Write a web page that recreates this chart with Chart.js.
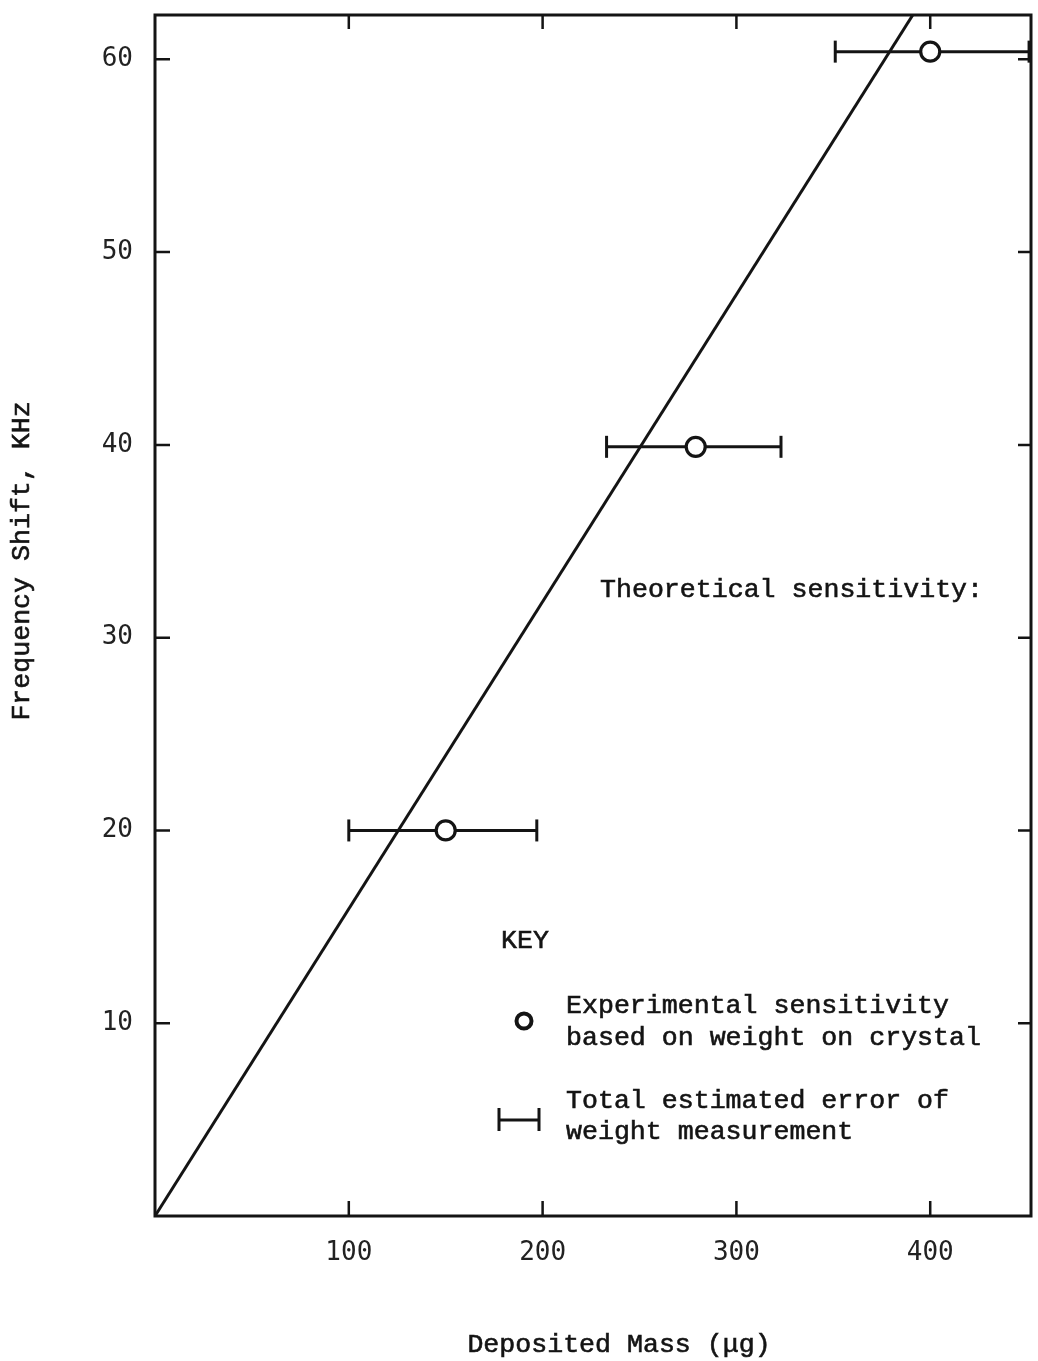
<!DOCTYPE html>
<html>
<head>
<meta charset="utf-8">
<script src="https://cdn.jsdelivr.net/npm/chart.js@4/dist/chart.umd.min.js"></script>
<style>
  html, body { margin: 0; padding: 0; background: #ffffff; }
  canvas { display: block; }
</style>
</head>
<body>
<canvas id="chart" width="1038" height="1361"></canvas>
<script>
// Axis ticks
const xTicks = [100, 200, 300, 400];
const yTicks = [10, 20, 30, 40, 50, 60];
const xRange = [0, 452];
const yRange = [0, 62.3];

// Measured sensitivity (deposited mass in µg, frequency shift in kHz)
const massValues  = [150, 279, 400];
const shiftValues = [20, 39.9, 60.4];
// Total estimated error of the weight measurement (low / high mass)
const massLow  = [100, 233, 351];
const massHigh = [197, 323, 451];

// Theoretical sensitivity line end points
const theoryMass  = [0, 391];
const theoryShift = [0, 62.3];

const INK = '#141414';
const TEXT_FONT = '"Liberation Mono", "Courier New", monospace';
const TICK_FONT = '"DejaVu Sans Mono", monospace';

// Frame around the plot with inward tick marks on all four sides
const framePlugin = {
  id: 'frame',
  afterDatasetsDraw(chart) {
    const { ctx, chartArea: a, scales } = chart;
    ctx.save();
    ctx.strokeStyle = INK;
    ctx.lineWidth = 3;
    ctx.lineCap = 'square';
    ctx.strokeRect(a.left, a.top, a.right - a.left, a.bottom - a.top);
    ctx.lineWidth = 2.5;
    ctx.lineCap = 'butt';
    ctx.beginPath();
    xTicks.forEach(v => {
      const px = scales.x.getPixelForValue(v);
      ctx.moveTo(px, a.bottom); ctx.lineTo(px, a.bottom - 15);
      ctx.moveTo(px, a.top);    ctx.lineTo(px, a.top + 14);
    });
    yTicks.forEach(v => {
      const py = scales.y.getPixelForValue(v);
      ctx.moveTo(a.left, py);  ctx.lineTo(a.left + 15, py);
      ctx.moveTo(a.right, py); ctx.lineTo(a.right - 13, py);
    });
    ctx.stroke();
    ctx.restore();
  }
};

// Draws a line of typewriter text slightly heavier than the plain font
function typeText(ctx, s, x, y) {
  ctx.fillText(s, x, y);
  ctx.strokeText(s, x, y);
}

// Axis titles, line annotation and key
const textPlugin = {
  id: 'texts',
  afterDraw(chart) {
    const { ctx } = chart;
    ctx.save();
    ctx.fillStyle = INK;
    ctx.strokeStyle = INK;
    ctx.lineWidth = 0.6;
    ctx.font = '26.6px ' + TEXT_FONT;
    ctx.textBaseline = 'alphabetic';

    ctx.textAlign = 'center';
    typeText(ctx, 'Deposited Mass (μg)', 619, 1352);

    ctx.save();
    ctx.translate(29, 561);
    ctx.rotate(-Math.PI / 2);
    typeText(ctx, 'Frequency Shift, KHz', 0, 0);
    ctx.restore();

    ctx.textAlign = 'left';
    typeText(ctx, 'Theoretical sensitivity:', 600, 597);
    typeText(ctx, 'KEY', 501, 948);
    typeText(ctx, 'Experimental sensitivity', 566, 1013);
    typeText(ctx, 'based on weight on crystal', 566, 1045);
    typeText(ctx, 'Total estimated error of', 566, 1108);
    typeText(ctx, 'weight measurement', 566, 1139);

    // key symbols
    ctx.lineWidth = 4;
    ctx.beginPath();
    ctx.arc(524, 1021, 7.5, 0, Math.PI * 2);
    ctx.stroke();

    ctx.lineWidth = 3;
    ctx.beginPath();
    ctx.moveTo(498, 1120); ctx.lineTo(539, 1120);
    ctx.moveTo(499, 1108); ctx.lineTo(499, 1131);
    ctx.moveTo(539, 1108); ctx.lineTo(539, 1131);
    ctx.stroke();
    ctx.restore();
  }
};

const errorBarSets = massValues.map((_, i) => ({
  label: 'error ' + (i + 1),
  data: [{ x: massLow[i], y: shiftValues[i] }, { x: massHigh[i], y: shiftValues[i] }],
  showLine: true,
  borderColor: INK,
  borderWidth: 3,
  pointStyle: 'line',
  pointRotation: 90,
  pointRadius: 11,
  pointBorderWidth: 3,
  pointBorderColor: INK,
  clip: false,
  order: 2
}));

// Keep the plot box fixed: no extra room reserved for end labels
function noEdgePadding(s) {
  s.paddingTop = 0;
  s.paddingBottom = 0;
  s.paddingLeft = 0;
  s.paddingRight = 0;
}

function build() {
  new Chart(document.getElementById('chart'), {
    type: 'scatter',
    data: {
      datasets: [
        {
          label: 'Experimental sensitivity',
          data: massValues.map((x, i) => ({ x, y: shiftValues[i] })),
          showLine: false,
          pointRadius: 9.5,
          pointBorderWidth: 3.2,
          pointBackgroundColor: '#ffffff',
          pointBorderColor: INK,
          order: 1
        },
        ...errorBarSets,
        {
          label: 'Theoretical sensitivity',
          data: theoryMass.map((x, i) => ({ x, y: theoryShift[i] })),
          showLine: true,
          borderColor: INK,
          borderWidth: 3,
          pointRadius: 0,
          order: 3
        }
      ]
    },
    options: {
      responsive: false,
      animation: false,
      devicePixelRatio: 1,
      layout: { autoPadding: false, padding: { top: 15, right: 7, bottom: 0, left: 0 } },
      plugins: { legend: { display: false }, tooltip: { enabled: false } },
      scales: {
        x: {
          type: 'linear',
          min: xRange[0],
          max: xRange[1],
          afterBuildTicks: s => { s.ticks = xTicks.map(v => ({ value: v })); },
          afterFit: s => { s.height = 145; noEdgePadding(s); },
          grid: { display: false, drawTicks: false },
          border: { display: false },
          ticks: {
            padding: 22,
            maxRotation: 0,
            autoSkip: false,
            color: '#222222',
            font: { family: TICK_FONT, size: 26 }
          }
        },
        y: {
          type: 'linear',
          min: yRange[0],
          max: yRange[1],
          afterBuildTicks: s => { s.ticks = yTicks.map(v => ({ value: v })); },
          afterFit: s => { s.width = 155; noEdgePadding(s); },
          grid: { display: false, drawTicks: false },
          border: { display: false },
          ticks: {
            padding: 22,
            autoSkip: false,
            color: '#222222',
            font: { family: TICK_FONT, size: 26 }
          }
        }
      }
    },
    plugins: [framePlugin, textPlugin]
  });
}

Promise.all([
  document.fonts.load('26px "Liberation Mono"'),
  document.fonts.load('26px "DejaVu Sans Mono"')
]).then(build, build);
</script>
</body>
</html>
